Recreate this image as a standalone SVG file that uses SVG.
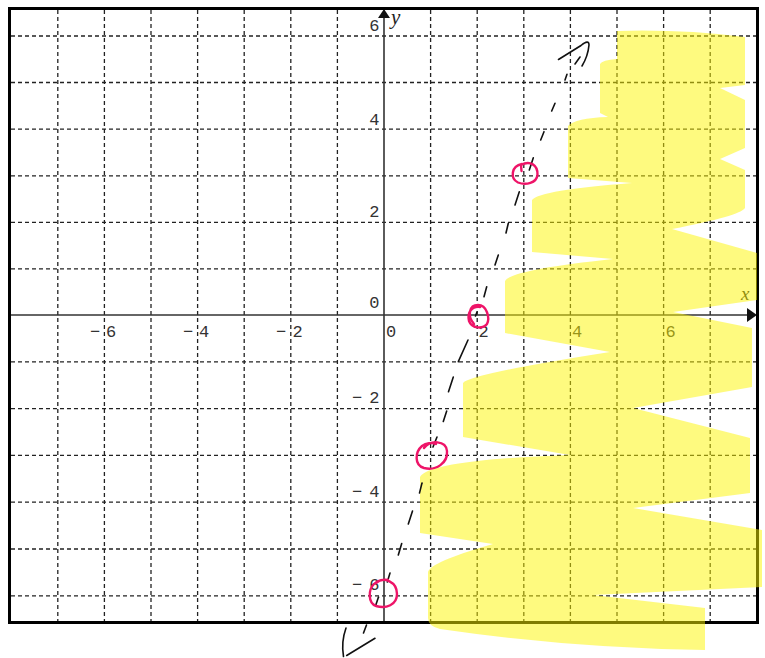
<svg xmlns="http://www.w3.org/2000/svg" width="765" height="658" viewBox="0 0 765 658">
<style>
.grid line{stroke:#222;stroke-width:1.3;stroke-dasharray:4 3}
.axis{stroke:#333;stroke-width:1.6;fill:none}
.tick{font-family:"Liberation Mono","DejaVu Sans Mono",monospace;font-size:17px;fill:#333}
.var{font-family:"Liberation Serif","DejaVu Serif",serif;font-style:italic;fill:#222}
.ink{stroke:#111;stroke-width:1.6;fill:none;stroke-linecap:round}
.pink{stroke:#ee1468;stroke-width:2.4;fill:none;stroke-linecap:round;stroke-linejoin:round}
</style>
<rect width="765" height="658" fill="#fff"/>
<g id="grid" class="grid">
<line x1="57.8" y1="10" x2="57.8" y2="621"/>
<line x1="104.4" y1="10" x2="104.4" y2="621"/>
<line x1="151" y1="10" x2="151" y2="621"/>
<line x1="197.6" y1="10" x2="197.6" y2="621"/>
<line x1="244.2" y1="10" x2="244.2" y2="621"/>
<line x1="290.8" y1="10" x2="290.8" y2="621"/>
<line x1="337.4" y1="10" x2="337.4" y2="621"/>
<line x1="430.6" y1="10" x2="430.6" y2="621"/>
<line x1="477.2" y1="10" x2="477.2" y2="621"/>
<line x1="523.8" y1="10" x2="523.8" y2="621"/>
<line x1="570.4" y1="10" x2="570.4" y2="621"/>
<line x1="617" y1="10" x2="617" y2="621"/>
<line x1="663.6" y1="10" x2="663.6" y2="621"/>
<line x1="710.2" y1="10" x2="710.2" y2="621"/>
<line x1="11" y1="36" x2="756" y2="36"/>
<line x1="11" y1="82.5" x2="756" y2="82.5"/>
<line x1="11" y1="129.2" x2="756" y2="129.2"/>
<line x1="11" y1="175.8" x2="756" y2="175.8"/>
<line x1="11" y1="222.3" x2="756" y2="222.3"/>
<line x1="11" y1="268.8" x2="756" y2="268.8"/>
<line x1="11" y1="361.8" x2="756" y2="361.8"/>
<line x1="11" y1="408.6" x2="756" y2="408.6"/>
<line x1="11" y1="455.4" x2="756" y2="455.4"/>
<line x1="11" y1="502.2" x2="756" y2="502.2"/>
<line x1="11" y1="549" x2="756" y2="549"/>
<line x1="11" y1="595.8" x2="756" y2="595.8"/>
</g>
<g id="axes">
<line class="axis" x1="11" y1="315" x2="748" y2="315"/>
<polygon points="757,315 747,308 747,322" fill="#111"/>
<line class="axis" x1="384" y1="621" x2="384" y2="17"/>
<polygon points="384,9 378,18 390,18" fill="#111"/>
<text class="var" x="391" y="24" font-size="21">y</text>
<text class="var" x="741" y="300" font-size="19">x</text>
</g>
<g id="labels" class="tick">
<text x="379.5" y="31" text-anchor="end">6</text>
<text x="379.5" y="125" text-anchor="end">4</text>
<text x="379.5" y="217" text-anchor="end">2</text>
<text x="379.5" y="308" text-anchor="end">0</text>
<text y="403"><tspan x="352">−</tspan><tspan x="379.5" text-anchor="end">2</tspan></text>
<text y="497"><tspan x="352">−</tspan><tspan x="379.5" text-anchor="end">4</tspan></text>
<text y="590"><tspan x="352">−</tspan><tspan x="379.5" text-anchor="end">6</tspan></text>
<text y="336.5"><tspan x="90">−</tspan><tspan x="106">6</tspan></text>
<text y="336.5"><tspan x="183">−</tspan><tspan x="199">4</tspan></text>
<text y="336.5"><tspan x="276">−</tspan><tspan x="292.5">2</tspan></text>
<text x="386" y="336.5">0</text>
<text x="478.5" y="336.5">2</text>
<text x="572" y="336.5">4</text>
<text x="665.5" y="336.5">6</text>
</g>
<rect id="frame" x="9.5" y="8.5" width="748" height="614" fill="none" stroke="#000" stroke-width="3"/>
<g id="highlight">
<path fill="#fdf500" opacity="0.5" d="M617,31 Q680,29 745,37 L745,85 L720,88 L745,100 L745,148 L720,159 L745,170 L745,208 Q740,216 672,229 L757,253 L757,300 L673,312 L752,328 L752,387 L633,408 L750,438 L750,493 L633,508 L762,530 L762,587 L593,595 L705,608 L705,650 Q570,648 440,629 Q428,626 428,618 L428,572 Q430,562 493,544 L420,533 L420,477 Q430,460 570,455 L463,437 L463,383 Q470,374 610,352 L505,333 L505,281 Q510,270 613,259 L532,252 L532,200 Q540,190 632,183 L568,178 L568,126 Q575,118 608,117 L600,113 L600,64 Q602,60 617,59 Z"/>
</g>
<g id="pen">
<path class="ink" d="M363.5,633 L366.5,625"/>
<path class="ink" d="M375.5,606 L378.5,597"/>
<path class="ink" d="M387.3,582 L390,573"/>
<path class="ink" d="M398.3,555 L401.7,543.5"/>
<path class="ink" d="M408.3,524 L412.5,511"/>
<path class="ink" d="M419.5,493 L422,483"/>
<path class="ink" d="M433,447 L437,437"/>
<path class="ink" d="M443.3,421.5 L446.7,411"/>
<path class="ink" d="M448.5,391.7 L453.3,377" stroke-width="2"/>
<path class="ink" d="M458.3,361.7 L468,340"/>
<path class="ink" d="M475.5,316 L477,312"/>
<path class="ink" d="M484,296.7 L486.7,286.7"/>
<path class="ink" d="M495,265 L498.3,255"/>
<path class="ink" d="M506,233 L508.3,223.3"/>
<path class="ink" d="M515,205 L519.3,191.7"/>
<path class="ink" d="M529.3,170 L533.3,157.7"/>
<path class="ink" d="M540.7,140 L544,131.7"/>
<path class="ink" d="M551.7,111 L555,103.3"/>
<path class="ink" d="M565,80 L567,74.3"/>
<path class="ink" d="M575,64 L580,57"/>
<path class="ink" d="M558.5,59.5 L581,45.5 Q589,39 589,45 Q588,56 582,66" stroke-width="2.4"/>
<path class="ink" d="M346,628 Q341,642 343.5,656.5" stroke-width="2"/>
<path class="ink" d="M346.7,655.5 L375,638.3" stroke-width="2"/>
</g>
<g id="circles" class="pink">
<path d="M521.5,171 L521,165 C530,160 538,165 537.5,175 C536.5,183 526,185.5 518,182.5 C510,178.5 511,166 522,164"/>
<path d="M474,324 C467,316 469,305 478,305 C487,305 490,318 487,324 C483,329 472,329 469,321 C467,312 472,306 480,307"/>
<path d="M424,448 C430,440 446,440 447,451 C448,463 436,471 424,468 C414,465 415,452 422,446 C426,443 432,442 436,444"/>
<path d="M376,583 C384,576 397,582 397,594 C397,605 386,609 376,606 C368,603 368,590 374,584 C378,580 384,579 388,580"/>
</g>
</svg>
